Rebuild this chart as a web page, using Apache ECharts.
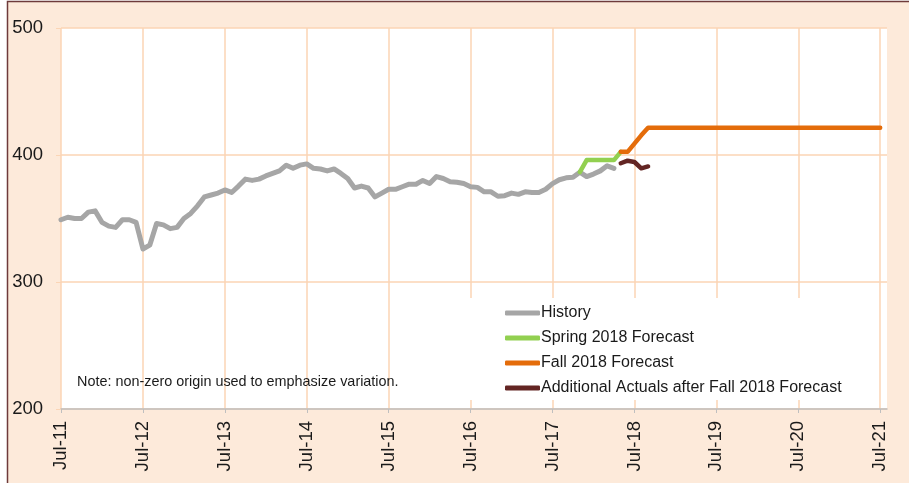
<!DOCTYPE html>
<html>
<head>
    <meta charset="utf-8">
    <title>History and forecasts</title>
    <script src="https://cdn.jsdelivr.net/npm/echarts@6/dist/echarts.min.js"></script>
</head>
<body style="margin:0;background:#fff;">
<div id="main" style="width:909px;height:483px;"></div>

<script type="text/javascript">
    // x axis: monthly, Jul-11 .. Aug-21 (labels shown every July)
    var monthNames = ['Jan', 'Feb', 'Mar', 'Apr', 'May', 'Jun', 'Jul', 'Aug', 'Sep', 'Oct', 'Nov', 'Dec'];
    var startYear = 2011, startMonth = 6, monthCount = 122;

    var historyStart = 'Jul-11';
    var historyValues = [
        349, 351, 350, 350, 355, 356, 347, 344, 343, 349, 349, 347,
        326, 329, 346, 345, 342, 343, 350, 354, 360, 367, 368.5, 370,
        372.5, 370.5, 375.5, 381, 380, 381, 383.5, 385.5, 387.5, 392, 389.5, 392,
        393, 389.5, 389, 387.5, 389, 385.5, 381.5, 374, 375.5, 374, 367, 370,
        373, 373, 375, 377, 377, 380, 377.5, 383, 381.5, 379, 378.5, 377.5,
        375, 374.5, 371, 371, 367.5, 368, 370, 369, 371, 370.5, 370.5, 373,
        377.5, 380.5, 382, 382.5, 386.5, 383, 385, 387.5, 391.5, 389.5
    ];

    var springStart = 'Nov-17';
    var springValues = [386.5, 396, 396, 396, 396, 396, 402.5];

    var fallStart = 'May-18';
    var fallValues = [
        402.5, 402.5, 409, 415.5, 421.5, 421.5, 421.5, 421.5, 421.5, 421.5,
        421.5, 421.5, 421.5, 421.5, 421.5, 421.5, 421.5, 421.5, 421.5, 421.5,
        421.5, 421.5, 421.5, 421.5, 421.5, 421.5, 421.5, 421.5, 421.5, 421.5,
        421.5, 421.5, 421.5, 421.5, 421.5, 421.5, 421.5, 421.5, 421.5
    ];

    var actualsStart = 'May-18';
    var actualsValues = [393.5, 395.5, 394.5, 389.5, 391];

    var months = [];
    for (var i = 0; i < monthCount; i++) {
        var m = (startMonth + i) % 12;
        var y = startYear + Math.floor((startMonth + i) / 12);
        months.push(monthNames[m] + '-' + String(y).slice(2));
    }

    function toPairs(start, values) {
        var s = months.indexOf(start);
        return values.map(function (v, k) { return [months[s + k], v]; });
    }

    var font = 'Liberation Sans, Arial, sans-serif';
    var gridColor = '#FBD5B5';
    var yearly = function (index) { return index % 12 === 0; };

    var option = {
        backgroundColor: '#fff',
        animation: false,
        graphic: [
            {
                type: 'rect', z: -10, silent: true,
                shape: {x: 7.5, y: 1.5, width: 910, height: 490},
                style: {fill: '#FDEADA', stroke: '#6E3B3B', lineWidth: 1.5}
            },
            {
                type: 'rect', z: 1, silent: true,
                shape: {x: 462, y: 298, width: 413, height: 102},
                style: {fill: '#fff'}
            },
            {
                type: 'text', z: 5, silent: true,
                x: 77, y: 382,
                style: {
                    text: 'Note: non-zero origin used to emphasize variation.',
                    font: '14.4px ' + font, fill: '#1a1a1a', verticalAlign: 'middle'
                }
            }
        ],
        grid: {
            left: 61, right: 22, top: 28, bottom: 74,
            show: true, backgroundColor: '#fff', borderWidth: 0
        },
        legend: {
            orient: 'vertical',
            left: 505, top: 305,
            padding: 0,
            icon: 'roundRect',
            itemWidth: 35, itemHeight: 5, itemGap: 9,
            textStyle: {fontFamily: font, fontSize: 16, color: '#1a1a1a', padding: [0, 0, 0, -4]},
            data: ['History', 'Spring 2018 Forecast', 'Fall 2018 Forecast', 'Additional Actuals after Fall 2018 Forecast']
        },
        xAxis: {
            type: 'category',
            data: months,
            boundaryGap: false,
            axisLine: {lineStyle: {color: '#BFBFBF', width: 1.5}},
            axisTick: {interval: yearly, length: 4, lineStyle: {color: '#BFBFBF'}},
            axisLabel: {
                interval: yearly, rotate: 90, margin: 12,
                fontFamily: font, fontSize: 18.5, color: '#1a1a1a'
            },
            splitLine: {show: true, interval: yearly, lineStyle: {color: gridColor, width: 1.5}}
        },
        yAxis: {
            type: 'value',
            min: 200, max: 500, interval: 100,
            axisLine: {show: false},
            axisTick: {show: true, length: 5, lineStyle: {color: gridColor}},
            axisLabel: {fontFamily: font, fontSize: 18.5, color: '#1a1a1a', margin: 18},
            splitLine: {lineStyle: {color: gridColor, width: 1.5}}
        },
        series: [
            {
                name: 'History', type: 'line', symbol: 'none', z: 2,
                lineStyle: {color: '#A6A6A6', width: 5, cap: 'round', join: 'round'},
                itemStyle: {color: '#A6A6A6'},
                data: toPairs(historyStart, historyValues)
            },
            {
                name: 'Spring 2018 Forecast', type: 'line', symbol: 'none', z: 3,
                lineStyle: {color: '#92D050', width: 4.5, cap: 'round', join: 'round'},
                itemStyle: {color: '#92D050'},
                data: toPairs(springStart, springValues)
            },
            {
                name: 'Fall 2018 Forecast', type: 'line', symbol: 'none', z: 4,
                lineStyle: {color: '#E46C0A', width: 4.5, cap: 'round', join: 'round'},
                itemStyle: {color: '#E46C0A'},
                data: toPairs(fallStart, fallValues)
            },
            {
                name: 'Additional Actuals after Fall 2018 Forecast', type: 'line', symbol: 'none', z: 5,
                lineStyle: {color: '#632523', width: 4.5, cap: 'round', join: 'round'},
                itemStyle: {color: '#632523'},
                data: toPairs(actualsStart, actualsValues)
            }
        ]
    };

    var myChart = echarts.init(document.getElementById('main'));
    myChart.setOption(option);
</script>
</body>
</html>
